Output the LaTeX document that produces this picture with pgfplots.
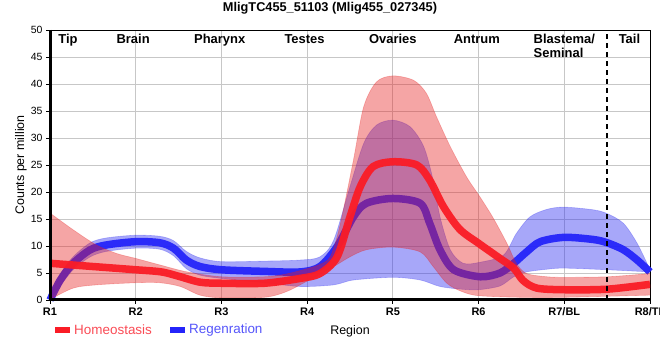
\documentclass[border=0pt]{standalone}
\usepackage{pgfplots}
\pgfplotsset{compat=1.18}
\usepgfplotslibrary{fillbetween}
\usepackage{fontspec}
\setmainfont{Liberation Sans}
\definecolor{hline}{RGB}{250,28,38}
\definecolor{rline}{RGB}{36,36,250}
\definecolor{hband}{RGB}{230,30,30}
\definecolor{rband}{RGB}{45,45,240}
\definecolor{htext}{RGB}{250,75,85}
\definecolor{rtext}{RGB}{85,85,250}
\begin{document}
\begin{tikzpicture}
\begin{axis}[
  set layers,
  at={(50bp,60bp)}, anchor=south west,
  scale only axis, width=600bp, height=270bp,
  xmin=0, xmax=7, ymin=0, ymax=50,
  xtick={0,1,2,3,4,5,6,7},
  xticklabels={R1,R2,R3,R4,R5,R6,R7/BL,R8/TL},
  ytick={0,5,...,50},
  grid=major,
  major grid style={color=black!22, line width=0.8bp},
  axis line style={black, line width=0.9bp},
  tick align=outside, xtick pos=bottom, ytick pos=left,
  major tick length=4bp,
  tick style={black, line width=0.8bp},
  /pgf/number format/assume math mode=true,
  xticklabel style={font=\fontsize{11}{13}\selectfont\bfseries},
  yticklabel style={font=\fontsize{10.5}{12}\selectfont},
]
% ---- Regeneration band ----
\addplot[name path=ru, smooth, draw=rband, draw opacity=0.3, line width=0.6bp, on layer=pre main] coordinates {
(0,0.3) (0.12,4.8) (0.27,8) (0.47,10.6) (0.66,11.5) (1,12) (1.28,11.8) (1.44,11) (1.59,9) (1.75,7.8) (2,7.1) (2.5,7.2) (2.92,7.4)
(3.15,8) (3.31,11.1) (3.5,21) (3.66,29) (3.81,32.4) (4,33.3) (4.2,32.1) (4.36,28.4) (4.47,22.2) (4.55,15.4) (4.67,9.3) (4.82,6.8) (5.02,7)
(5.29,8.3) (5.44,12.3) (5.6,15.4) (5.8,16.8) (6,17.2) (6.34,16.7) (6.5,16) (6.69,14.2) (6.85,10.5) (7,5.6)};
\addplot[name path=rl, smooth, draw=rband, draw opacity=0.3, line width=0.6bp, on layer=pre main] coordinates {
(0,0) (0.12,2.6) (0.27,5.6) (0.47,8) (0.66,9) (1,9.6) (1.28,9.4) (1.44,8.2) (1.59,5.8) (1.75,4.6) (2,4.0) (2.5,3.2) (2.92,2.5)
(3.31,2.8) (3.54,3.7) (4,4.2) (4.32,3.7) (4.55,2.5) (4.8,2.0) (5.0,1.9) (5.25,2.6) (5.41,4.3) (5.56,5.2) (5.8,5.7) (6,5.9) (6.5,5.6) (7,5.2)};
\addplot[rband, fill opacity=0.42, draw=none] fill between[of=ru and rl];
% ---- Regeneration mean ----
\addplot[smooth, rline, line width=7.5bp, opacity=0.95, on layer=pre main] coordinates {
(0,0) (0.12,3.7) (0.27,6.8) (0.47,9.3) (0.66,10.2) (1,10.8) (1.28,10.6) (1.44,9.6) (1.59,7.4) (1.75,6.2) (2,5.6) (2.5,5.3) (2.92,5.2)
(3.15,6.2) (3.35,9.9) (3.54,15.4) (3.69,17.9) (4,18.8) (4.32,17.9) (4.43,14.2) (4.55,9.3) (4.71,5.6) (5.02,4.3) (5.25,5.0)
(5.41,6.8) (5.56,8.9) (5.72,10.8) (6,11.6) (6.34,11.2) (6.5,10.6) (6.69,9.3) (6.85,7.4) (7,5.2)};
% ---- Homeostasis band ----
\addplot[name path=hu, smooth, draw=hband, draw opacity=0.3, line width=0.6bp, on layer=pre main] coordinates {
(0,16.1) (0.27,13) (0.54,10.2) (0.78,8.6) (1,7.7) (1.28,6.5) (1.6,5.2) (2,4.3) (2.5,4.3) (2.75,4.8) (3.0,5.8) (3.15,6.6)
(3.27,8) (3.38,13.6) (3.54,25.9) (3.66,35.8) (3.81,40.4) (4,41.5) (4.24,40.7) (4.39,38.3) (4.51,33.9) (4.67,28.4) (4.86,22.8) (5.02,19)
(5.17,15.2) (5.33,10.5) (5.44,6.8) (5.56,4.9) (5.8,4.3) (6,4.2) (6.5,4.3) (7,4.9)};
\addplot[name path=hl, smooth, draw=hband, draw opacity=0.3, line width=0.6bp, on layer=pre main] coordinates {
(0,0.1) (0.27,2.2) (0.54,2.8) (1,3.2) (1.28,3.2) (1.52,2.5) (1.75,0.9) (2,0.4) (2.5,0.5) (2.75,1.5) (3,3.5)
(3.31,6.2) (3.5,8) (3.69,9.3) (4,9.8) (4.32,8.9) (4.47,6.2) (4.63,3.1) (4.8,1.6) (5.0,0.8) (5.5,0.5) (6,0.5) (7,0.9)};
\addplot[hband, fill opacity=0.4, draw=none] fill between[of=hu and hl];
% ---- Homeostasis mean ----
\addplot[smooth, hline, line width=7.5bp, opacity=0.95] coordinates {
(0,6.8) (0.5,6.2) (1,5.6) (1.3,5.2) (1.5,4.4) (1.75,3.3) (2,3.1) (2.5,3.1) (2.92,4.0) (3.15,4.9) (3.35,8.0)
(3.5,15.4) (3.62,21) (3.77,24.7) (4,25.6) (4.28,25) (4.43,22.2) (4.59,17.3) (4.78,13.1) (5.0,10.5) (5.25,7.7)
(5.41,5.9) (5.52,3.6) (5.68,2.2) (6,1.9) (6.5,2.0) (7,2.9)};
% ---- divider ----
\draw[black, line width=2.5bp, dash pattern=on 5bp off 4bp] (axis cs:6.5,0) -- (axis cs:6.5,50);
% ---- region labels ----
\node[anchor=north, inner sep=0pt, font=\fontsize{13}{14}\selectfont\bfseries] at (axis cs:0.21,49.2) {Tip};
\node[anchor=north, inner sep=0pt, font=\fontsize{13}{14}\selectfont\bfseries] at (axis cs:0.97,49.2) {Brain};
\node[anchor=north, inner sep=0pt, font=\fontsize{13}{14}\selectfont\bfseries] at (axis cs:1.98,49.2) {Pharynx};
\node[anchor=north, inner sep=0pt, font=\fontsize{13}{14}\selectfont\bfseries] at (axis cs:2.97,49.2) {Testes};
\node[anchor=north, inner sep=0pt, font=\fontsize{13}{14}\selectfont\bfseries] at (axis cs:4.0,49.2) {Ovaries};
\node[anchor=north, inner sep=0pt, font=\fontsize{13}{14}\selectfont\bfseries] at (axis cs:4.98,49.2) {Antrum};
\node[anchor=north, inner sep=0pt, align=left, font=\fontsize{13}{14}\selectfont\bfseries] at (axis cs:6.0,49.2) {Blastema/\\Seminal};
\node[anchor=north, inner sep=0pt, font=\fontsize{13}{14}\selectfont\bfseries] at (axis cs:6.76,49.2) {Tail};
\end{axis}
% thick left and bottom axis lines
\draw[black, line width=3bp] (50bp,330bp) -- (50bp,58.5bp);
\draw[black, line width=3bp] (48.5bp,60bp) -- (650bp,60bp);
% title
\node[font=\fontsize{12.8}{14}\selectfont\bfseries] at (330bp,352bp) {MligTC455\_51103 (Mlig455\_027345)};
% y label
\node[rotate=90, font=\fontsize{12.5}{14}\selectfont] at (21bp,195bp) {Counts per million};
% x label
\node[font=\fontsize{12.5}{14}\selectfont] at (350bp,29bp) {Region};
% legend
\fill[hline] (55bp,27bp) rectangle (70bp,33bp);
\node[anchor=west, inner sep=0pt, text=htext, font=\fontsize{13.5}{15}\selectfont] at (74bp,30bp) {Homeostasis};
\fill[rline] (170bp,27bp) rectangle (185bp,33bp);
\node[anchor=west, inner sep=0pt, text=rtext, font=\fontsize{13.5}{15}\selectfont] at (189bp,30bp) {Regenration};
\pgfresetboundingbox
\path[use as bounding box] (0,0) rectangle (660bp,360bp);
\end{tikzpicture}
\end{document}
